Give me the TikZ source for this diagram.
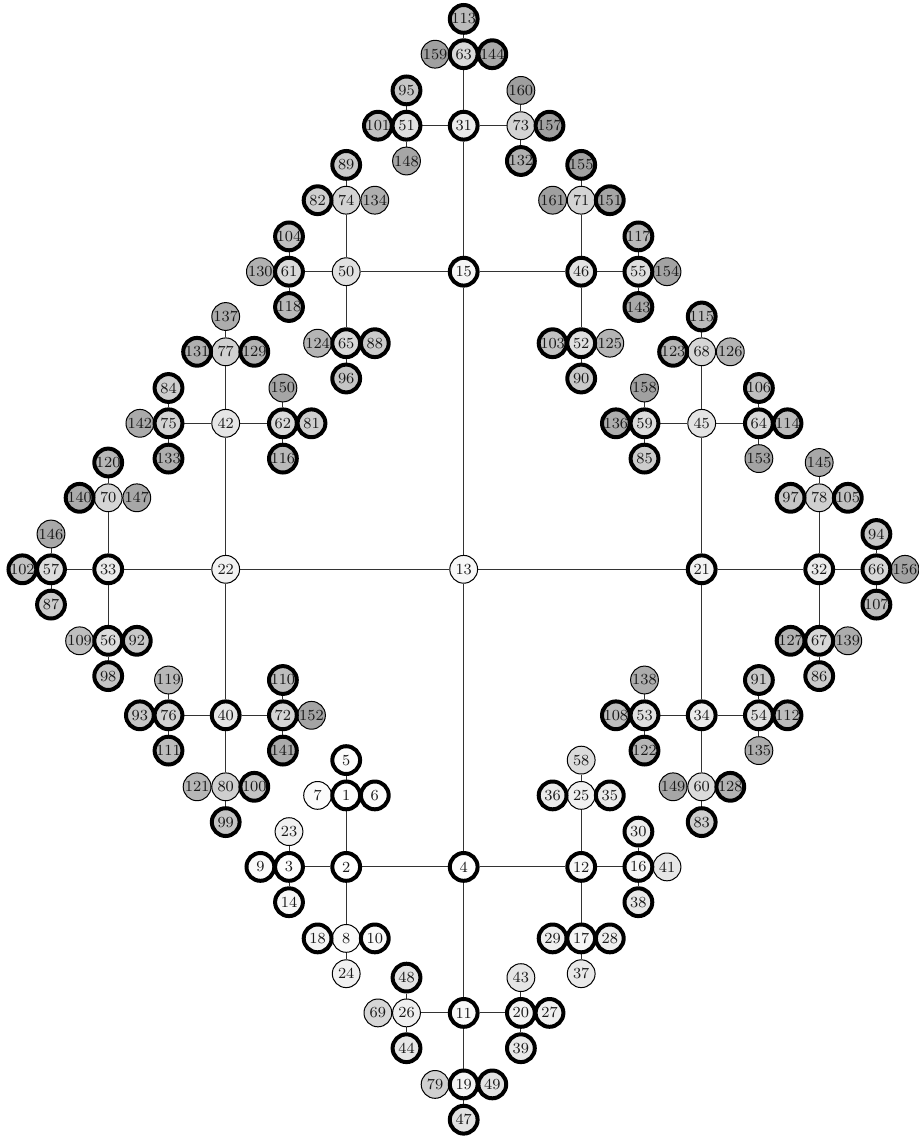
\documentclass[tikz,border=0pt]{standalone}
\usetikzlibrary{backgrounds}
\def\pAx{238}\def\pAy{297.6}
\def\pBx{117.5}\def\pBy{146}
\def\pCx{57.2}\def\pCy{71.5}
\def\pDx{28.6}\def\pDy{35.3}
\newcommand\mvN[3]{\edef\myoff{\csname p#3y\endcsname}\path (c#2) ++(0,-\myoff) coordinate (c#1);}
\newcommand\mvS[3]{\edef\myoff{\csname p#3y\endcsname}\path (c#2) ++(0,\myoff) coordinate (c#1);}
\newcommand\mvE[3]{\edef\myoff{\csname p#3x\endcsname}\path (c#2) ++(\myoff,0) coordinate (c#1);}
\newcommand\mvW[3]{\edef\myoff{\csname p#3x\endcsname}\path (c#2) ++(-\myoff,0) coordinate (c#1);}
\tikzset{
  nd/.style={circle, draw=black, inner sep=0pt, minimum size=13.9pt, text=black!90,
    font=\fontsize{7.7pt}{9pt}\selectfont},
  thn/.style={line width=0.5pt},
  thk/.style={line width=2pt},
  edge/.style={draw=black!80, line width=0.5pt}
}
\begin{document}
\begin{tikzpicture}[x=0.5pt,y=-0.5pt]
\useasboundingbox (0,0) rectangle (918,1140);
\coordinate (c13) at (463.7,569.3);
% level A
\mvN{15}{13}{A} \mvS{4}{13}{A} \mvE{21}{13}{A} \mvW{22}{13}{A}
% level B
\mvN{31}{15}{B} \mvE{46}{15}{B} \mvW{50}{15}{B}
\mvS{11}{4}{B} \mvE{12}{4}{B} \mvW{2}{4}{B}
\mvE{32}{21}{B} \mvN{45}{21}{B} \mvS{34}{21}{B}
\mvW{33}{22}{B} \mvN{42}{22}{B} \mvS{40}{22}{B}
% level C
\mvN{63}{31}{C} \mvW{51}{31}{C} \mvE{73}{31}{C}
\mvE{55}{46}{C} \mvN{71}{46}{C} \mvS{52}{46}{C}
\mvW{61}{50}{C} \mvN{74}{50}{C} \mvS{65}{50}{C}
\mvS{19}{11}{C} \mvW{26}{11}{C} \mvE{20}{11}{C}
\mvE{16}{12}{C} \mvN{25}{12}{C} \mvS{17}{12}{C}
\mvW{3}{2}{C} \mvN{1}{2}{C} \mvS{8}{2}{C}
\mvE{66}{32}{C} \mvN{78}{32}{C} \mvS{67}{32}{C}
\mvE{64}{45}{C} \mvW{59}{45}{C} \mvN{68}{45}{C}
\mvE{54}{34}{C} \mvW{53}{34}{C} \mvS{60}{34}{C}
\mvW{57}{33}{C} \mvN{70}{33}{C} \mvS{56}{33}{C}
\mvW{75}{42}{C} \mvE{62}{42}{C} \mvN{77}{42}{C}
\mvW{76}{40}{C} \mvE{72}{40}{C} \mvS{80}{40}{C}
% level D
\mvN{113}{63}{D} \mvW{159}{63}{D} \mvE{144}{63}{D}
\mvW{101}{51}{D} \mvN{95}{51}{D} \mvS{148}{51}{D}
\mvE{157}{73}{D} \mvN{160}{73}{D} \mvS{132}{73}{D}
\mvE{154}{55}{D} \mvN{117}{55}{D} \mvS{143}{55}{D}
\mvN{155}{71}{D} \mvW{161}{71}{D} \mvE{151}{71}{D}
\mvS{90}{52}{D} \mvW{103}{52}{D} \mvE{125}{52}{D}
\mvW{130}{61}{D} \mvN{104}{61}{D} \mvS{118}{61}{D}
\mvN{89}{74}{D} \mvW{82}{74}{D} \mvE{134}{74}{D}
\mvS{96}{65}{D} \mvW{124}{65}{D} \mvE{88}{65}{D}
\mvS{47}{19}{D} \mvW{79}{19}{D} \mvE{49}{19}{D}
\mvW{69}{26}{D} \mvN{48}{26}{D} \mvS{44}{26}{D}
\mvE{27}{20}{D} \mvN{43}{20}{D} \mvS{39}{20}{D}
\mvE{41}{16}{D} \mvN{30}{16}{D} \mvS{38}{16}{D}
\mvN{58}{25}{D} \mvW{36}{25}{D} \mvE{35}{25}{D}
\mvS{37}{17}{D} \mvW{29}{17}{D} \mvE{28}{17}{D}
\mvW{9}{3}{D} \mvN{23}{3}{D} \mvS{14}{3}{D}
\mvN{5}{1}{D} \mvW{7}{1}{D} \mvE{6}{1}{D}
\mvS{24}{8}{D} \mvW{18}{8}{D} \mvE{10}{8}{D}
\mvE{156}{66}{D} \mvN{94}{66}{D} \mvS{107}{66}{D}
\mvN{145}{78}{D} \mvW{97}{78}{D} \mvE{105}{78}{D}
\mvS{86}{67}{D} \mvW{127}{67}{D} \mvE{139}{67}{D}
\mvE{114}{64}{D} \mvN{106}{64}{D} \mvS{153}{64}{D}
\mvW{136}{59}{D} \mvN{158}{59}{D} \mvS{85}{59}{D}
\mvN{115}{68}{D} \mvW{123}{68}{D} \mvE{126}{68}{D}
\mvE{112}{54}{D} \mvN{91}{54}{D} \mvS{135}{54}{D}
\mvW{108}{53}{D} \mvN{138}{53}{D} \mvS{122}{53}{D}
\mvS{83}{60}{D} \mvW{149}{60}{D} \mvE{128}{60}{D}
\mvW{102}{57}{D} \mvN{146}{57}{D} \mvS{87}{57}{D}
\mvN{120}{70}{D} \mvW{140}{70}{D} \mvE{147}{70}{D}
\mvS{98}{56}{D} \mvW{109}{56}{D} \mvE{92}{56}{D}
\mvW{142}{75}{D} \mvN{84}{75}{D} \mvS{133}{75}{D}
\mvE{81}{62}{D} \mvN{150}{62}{D} \mvS{116}{62}{D}
\mvN{137}{77}{D} \mvW{131}{77}{D} \mvE{129}{77}{D}
\mvW{93}{76}{D} \mvN{119}{76}{D} \mvS{111}{76}{D}
\mvE{152}{72}{D} \mvN{110}{72}{D} \mvS{141}{72}{D}
\mvS{99}{80}{D} \mvW{121}{80}{D} \mvE{100}{80}{D}
% thin-bordered nodes
\foreach \n in {7,8,13,22,23,24,25,26,37,41,42,43,45,50,58,60,68,69,70,71,73,74,77,78,79,80,109,119,121,124,125,126,130,134,135,137,138,139,142,145,146,147,148,149,150,152,153,154,156,158,159,160,161}{
  \pgfmathsetmacro\pct{\n*0.235}
  \node[nd,thn,fill=black!\pct] (n\n) at (c\n) {\n};
}
% thick-bordered nodes
\foreach \n in {1,2,3,4,5,6,9,10,11,12,14,15,16,17,18,19,20,21,27,28,29,30,31,32,33,34,35,36,38,39,40,44,46,47,48,49,51,52,53,54,55,56,57,59,61,62,63,64,65,66,67,72,75,76,81,82,83,84,85,86,87,88,89,90,91,92,93,94,95,96,97,98,99,100,101,102,103,104,105,106,107,108,110,111,112,113,114,115,116,117,118,120,122,123,127,128,129,131,132,133,136,140,141,143,144,151,155,157}{
  \pgfmathsetmacro\pct{\n*0.235}
  \node[nd,thk,fill=black!\pct] (n\n) at (c\n) {\n};
}
% connectors
\begin{scope}[on background layer]
\foreach \a/\b in {13/15,13/4,13/21,13/22,
 15/31,15/46,15/50, 4/11,4/12,4/2, 21/32,21/45,21/34, 22/33,22/42,22/40,
 31/63,31/51,31/73, 46/55,46/71,46/52, 50/61,50/74,50/65,
 11/19,11/26,11/20, 12/16,12/25,12/17, 2/3,2/1,2/8,
 32/66,32/78,32/67, 45/64,45/59,45/68, 34/54,34/53,34/60,
 33/57,33/70,33/56, 42/75,42/62,42/77, 40/76,40/72,40/80,
 63/113,63/159,63/144, 51/101,51/95,51/148, 73/157,73/160,73/132,
 55/154,55/117,55/143, 71/155,71/161,71/151, 52/90,52/103,52/125,
 61/130,61/104,61/118, 74/89,74/82,74/134, 65/96,65/124,65/88,
 19/47,19/79,19/49, 26/69,26/48,26/44, 20/27,20/43,20/39,
 16/41,16/30,16/38, 25/58,25/36,25/35, 17/37,17/29,17/28,
 3/9,3/23,3/14, 1/5,1/7,1/6, 8/24,8/18,8/10,
 66/156,66/94,66/107, 78/145,78/97,78/105, 67/86,67/127,67/139,
 64/114,64/106,64/153, 59/136,59/158,59/85, 68/115,68/123,68/126,
 54/112,54/91,54/135, 53/108,53/138,53/122, 60/83,60/149,60/128,
 57/102,57/146,57/87, 70/120,70/140,70/147, 56/98,56/109,56/92,
 75/142,75/84,75/133, 62/81,62/150,62/116, 77/137,77/131,77/129,
 76/93,76/119,76/111, 72/152,72/110,72/141, 80/99,80/121,80/100}{
  \draw[edge] (n\a) -- (n\b);
}
\end{scope}
\end{tikzpicture}
\end{document}
